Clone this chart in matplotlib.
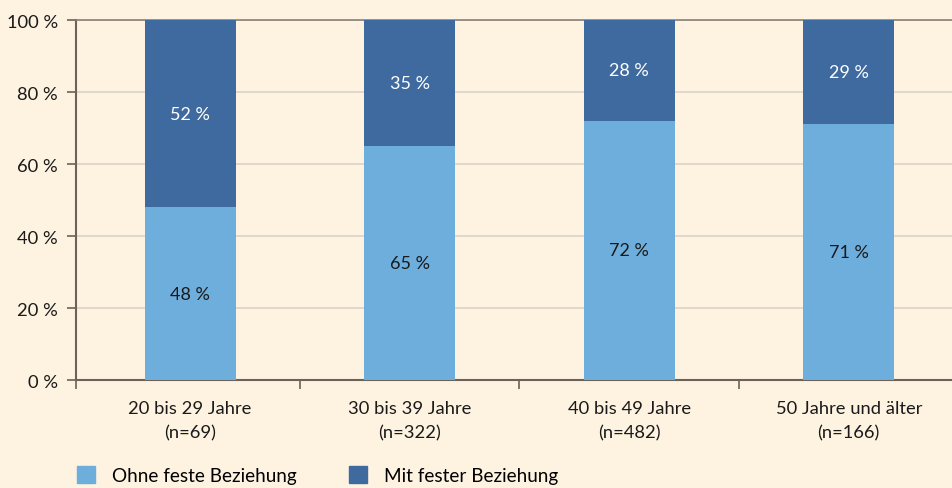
import matplotlib.pyplot as plt
from matplotlib.patches import Patch

# Daten
kategorien = ["20 bis 29 Jahre\n(n=69)", "30 bis 39 Jahre\n(n=322)",
              "40 bis 49 Jahre\n(n=482)", "50 Jahre und älter\n(n=166)"]
ohne_beziehung = [48, 65, 72, 71]
mit_beziehung = [52, 35, 28, 29]
y_ticks = [0, 20, 40, 60, 80, 100]

hell = "#6EAEDD"
dunkel = "#3E6A9F"
hintergrund = "#FEF3E1"
achse = "#6b6259"

plt.rcParams['font.family'] = ['Lato', 'DejaVu Sans']

fig = plt.figure(figsize=(9.52, 4.89), dpi=100, facecolor=hintergrund)
ax = fig.add_axes([76 / 952, 1 - 381 / 489, 1 - 76 / 952, 360 / 489])
ax.set_facecolor(hintergrund)

x = range(len(kategorien))
breite = 0.415
ax.bar(x, ohne_beziehung, width=breite, color=hell, zorder=3)
ax.bar(x, mit_beziehung, width=breite, bottom=ohne_beziehung, color=dunkel, zorder=3)

for i in x:
    ax.text(i, ohne_beziehung[i] / 2, f"{ohne_beziehung[i]} %", ha='center', va='center',
            fontsize=13, color='#1a1a1a', zorder=4)
    ax.text(i, ohne_beziehung[i] + mit_beziehung[i] / 2, f"{mit_beziehung[i]} %",
            ha='center', va='center', fontsize=13, color='white', zorder=4)

ax.set_xlim(-0.52, 3.47)
ax.set_ylim(0, 100)
ax.set_yticks(y_ticks)
ax.set_yticklabels([f"{v} %" for v in y_ticks])
ax.set_xticks(list(x))
ax.set_xticklabels(kategorien, linespacing=1.6)
ax.set_xticks([-0.52, 0.5, 1.5, 2.5], minor=True)

ax.tick_params(axis='y', direction='out', length=6.5, width=1.2, color=achse,
               labelsize=13.2, pad=6.5, labelcolor='#1a1a1a')
ax.tick_params(axis='x', which='major', length=0, labelsize=13.2, pad=14.5,
               labelcolor='#1a1a1a')
ax.tick_params(axis='x', which='minor', direction='out', length=6.5, width=1.2,
               color=achse)

ax.grid(axis='y', color='#d8d3cb', linewidth=1.2, zorder=0)
ax.spines['right'].set_visible(False)
ax.spines['top'].set_color('#8a8078')
ax.spines['top'].set_linewidth(1.2)
ax.spines['left'].set_color(achse)
ax.spines['left'].set_linewidth(1.5)
ax.spines['bottom'].set_color(achse)
ax.spines['bottom'].set_linewidth(1.5)

handles = [Patch(color=hell, label="Ohne feste Beziehung"),
           Patch(color=dunkel, label="Mit fester Beziehung")]
fig.legend(handles=handles, loc='center left', bbox_to_anchor=(77 / 952, 1 - 476 / 489),
           ncol=2, frameon=False, fontsize=13.6, handlelength=0.96, handleheight=0.96,
           handletextpad=0.9, columnspacing=2.75, borderpad=0, borderaxespad=0)

fig.savefig("out.png", dpi=100, facecolor=hintergrund)
